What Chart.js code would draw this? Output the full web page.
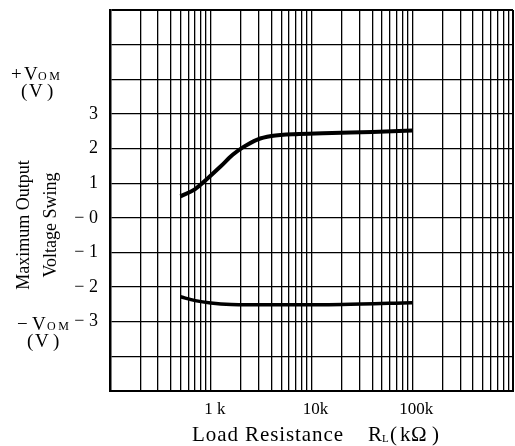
<!DOCTYPE html>
<html>
<head>
<meta charset="utf-8">
<script src="https://cdn.jsdelivr.net/npm/chart.js@4.4.1/dist/chart.umd.min.js"></script>
<style>
html, body { margin: 0; padding: 0; background: #fff; }
canvas { display: block; }
</style>
</head>
<body>
<canvas id="swing" width="515" height="446"></canvas>
<script>
// +Vom curve (upper) and -Vom curve (lower), load resistance in kOhm
var plusResistance = [0.5, 0.7, 0.9, 1.25, 1.65, 2.1, 2.9, 4, 7.5, 16, 40, 100];
var plusSwing = [0.62, 0.83, 1.1, 1.48, 1.82, 2.04, 2.26, 2.36, 2.42, 2.45, 2.48, 2.52];
var minusResistance = [0.5, 0.7, 1, 1.6, 4, 20, 100];
var minusSwing = [-2.28, -2.39, -2.46, -2.5, -2.51, -2.5, -2.45];

// tick labels
var xTickValues = [1, 10, 100];
var xTickText = ['1 k', '10k', '100k'];
var yTickValues = [3, 2, 1, 0, -1, -2, -3];
var yTickText = ['3', '2', '1', '\u2212 0', '\u2212 1', '\u2212 2', '\u2212 3'];

var xDecades = [0.1, 1, 10, 100];

var SERIF = "'Liberation Serif', 'DejaVu Serif', serif";

// log grid: 1..9 in every decade
var xGrid = [];
xDecades.forEach(function(d){
    for(var m = 1; m < 10; m++){
        xGrid.push(+(d * m).toPrecision(3));
    }
});
xGrid.push(1000);

function toPoints(xs, ys){
    return xs.map(function(x, i){ return {x: x, y: ys[i]}; });
}

// draws characters one by one so the run fills a given width
function drawSpaced(ctx, text, x, y, width){
    var chars = text.split('');
    var total = 0;
    chars.forEach(function(c){ total += ctx.measureText(c).width; });
    var gap = chars.length > 1 ? (width - total) / (chars.length - 1) : 0;
    chars.forEach(function(c){
        ctx.fillText(c, x, y);
        x += ctx.measureText(c).width + gap;
    });
}

function drawVom(ctx, sign, x, y){
    ctx.font = '19px ' + SERIF;
    ctx.fillText(sign, x, y);
    ctx.fillText('V', x + (sign === '+' ? 13 : 15), y);
    ctx.font = '12px ' + SERIF;
    drawSpaced(ctx, 'OM', x + (sign === '+' ? 27 : 30), y, 22);
}

function drawUnitV(ctx, x, y){
    ctx.font = '19px ' + SERIF;
    ctx.fillText('(', x, y);
    ctx.fillText('V', x + 8, y);
    ctx.fillText(')', x + 26, y);
}

var annotationText = {
    id: 'annotationText',
    afterDraw: function(chart){
        var ctx = chart.ctx;
        ctx.save();
        ctx.fillStyle = '#000';
        ctx.textBaseline = 'alphabetic';
        ctx.textAlign = 'left';

        drawVom(ctx, '+', 11, 80);
        drawUnitV(ctx, 21, 97);
        drawVom(ctx, '\u2212', 17, 330);
        drawUnitV(ctx, 27, 347);

        // x title
        ctx.font = '21px ' + SERIF;
        drawSpaced(ctx, 'Load Resistance', 192, 441, 151);
        ctx.fillText('R', 368, 441);
        ctx.font = '11px ' + SERIF;
        ctx.fillText('L', 382, 442);
        ctx.font = '21px ' + SERIF;
        ctx.fillText('(', 390, 441);
        ctx.fillText('k', 400, 441);
        ctx.fillText('\u03A9', 411, 441);
        ctx.fillText(')', 432, 441);

        // rotated y title
        ctx.font = '18px ' + SERIF;
        ctx.textAlign = 'center';
        ctx.translate(29, 225);
        ctx.rotate(-Math.PI / 2);
        ctx.fillText('Maximum Output', 0, 0);
        ctx.fillText('Voltage Swing', 0, 27);
        ctx.restore();
    }
};

function edgeWidth(lo, hi){
    return function(c){
        if(c.tick && (c.tick.value === lo || c.tick.value === hi)){
            return 2;
        }
        return 1.3;
    };
}

new Chart(document.getElementById('swing').getContext('2d'), {
    type: 'line',
    data: {
        datasets: [
            {
                data: toPoints(plusResistance, plusSwing),
                borderColor: '#000',
                borderWidth: 4,
                cubicInterpolationMode: 'monotone',
                pointRadius: 0,
                fill: false
            },
            {
                data: toPoints(minusResistance, minusSwing),
                borderColor: '#000',
                borderWidth: 3.5,
                cubicInterpolationMode: 'monotone',
                pointRadius: 0,
                fill: false
            }
        ]
    },
    options: {
        responsive: false,
        animation: false,
        devicePixelRatio: 1,
        layout: {padding: {top: 10, right: 2, left: 0, bottom: 0}},
        plugins: {
            legend: {display: false},
            tooltip: {enabled: false}
        },
        scales: {
            x: {
                type: 'logarithmic',
                min: 0.1,
                max: 1000,
                afterBuildTicks: function(scale){
                    scale.ticks = xGrid.map(function(v){ return {value: v}; });
                },
                afterFit: function(scale){
                    scale.height = 55;
                    scale.paddingLeft = 0;
                    scale.paddingRight = 0;
                },
                grid: {color: '#000', lineWidth: edgeWidth(0.1, 1000), drawTicks: false},
                border: {display: true, color: '#000', width: 2},
                ticks: {
                    autoSkip: false,
                    maxRotation: 0,
                    padding: 8,
                    labelOffset: 4,
                    color: '#000',
                    font: {family: SERIF, size: 17},
                    callback: function(value){
                        var i = xTickValues.indexOf(value);
                        return i < 0 ? '' : xTickText[i];
                    }
                }
            },
            y: {
                min: -5,
                max: 6,
                afterFit: function(scale){
                    scale.width = 110;
                    scale.paddingTop = 0;
                    scale.paddingBottom = 0;
                },
                grid: {color: '#000', lineWidth: edgeWidth(-5, 6), drawTicks: false},
                border: {display: true, color: '#000', width: 2.5},
                ticks: {
                    stepSize: 1,
                    padding: 12,
                    color: '#000',
                    font: {family: SERIF, size: 18},
                    callback: function(value){
                        var i = yTickValues.indexOf(value);
                        return i < 0 ? '' : yTickText[i];
                    }
                }
            }
        }
    },
    plugins: [annotationText]
});
</script>
</body>
</html>
